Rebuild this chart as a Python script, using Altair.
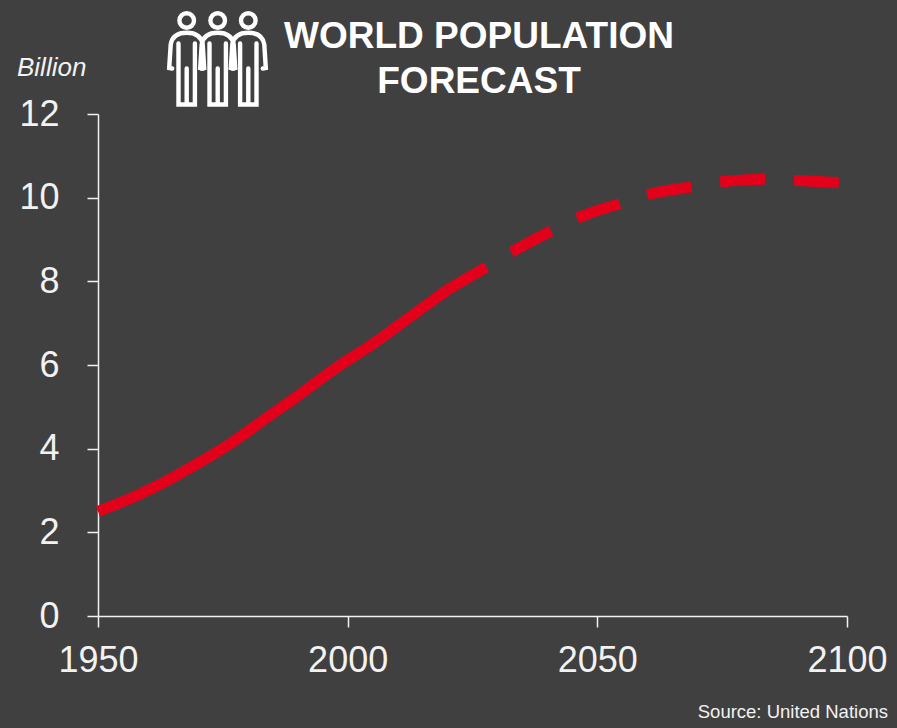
import altair as alt
import pandas as pd

# World population in billions: estimates, then the medium forecast
hist_years = [1950, 1957, 1963, 1970, 1977, 1984, 1990, 1998, 2005, 2011, 2020]
hist_pop = [2.50, 2.84, 3.18, 3.65, 4.16, 4.76, 5.26, 5.96, 6.50, 7.02, 7.80]
fcst_years = [2020, 2027, 2034, 2041, 2047, 2054, 2061, 2069, 2075, 2083, 2090, 2098, 2100]
fcst_pop = [7.80, 8.29, 8.78, 9.22, 9.56, 9.84, 10.10, 10.26, 10.38, 10.44, 10.41, 10.36, 10.34]

x_ticks = [1950, 2000, 2050, 2100]
y_ticks = [0, 2, 4, 6, 8, 10, 12]

PLOT_W, PLOT_H = 749, 502
BG = "#404040"
RED = "#e2001a"
AXIS = "#f2f2f2"
FONT = "Liberation Sans"

x_enc = alt.X(
    "year:Q", scale=alt.Scale(domain=[1950, 2100], nice=False), title=None,
    axis=alt.Axis(values=x_ticks, format="d", labelPadding=16, labelFontSize=36),
)
y_enc = alt.Y(
    "pop:Q", scale=alt.Scale(domain=[0, 12], nice=False), title=None,
    axis=alt.Axis(values=y_ticks, labelPadding=28, labelFontSize=36),
)

hist = pd.DataFrame({"year": hist_years, "pop": hist_pop})
fcst = pd.DataFrame({"year": fcst_years, "pop": fcst_pop})

solid = alt.Chart(hist).mark_line(
    color=RED, strokeWidth=11, interpolate="monotone", strokeCap="butt", clip=False
).encode(x=x_enc, y=y_enc)

dashed = alt.Chart(fcst).mark_line(
    color=RED, strokeWidth=11, interpolate="monotone", strokeCap="butt",
    strokeDash=[45, 29], clip=False,
).encode(x=x_enc, y=y_enc)


def label(text, x, y, **style):
    """A line of text placed in pixels relative to the plot area."""
    return alt.Chart(pd.DataFrame({"text": [text]})).mark_text(
        font=FONT, baseline="alphabetic", **style
    ).encode(x=alt.value(x), y=alt.value(y), text="text:N")


heading_1 = label("WORLD POPULATION", 381, -66, fontSize=37, fontWeight="bold", color="white", align="center")
heading_2 = label("FORECAST", 381, -21, fontSize=37, fontWeight="bold", color="white", align="center")
unit = label("Billion", -81, -38, fontSize=26, fontStyle="italic", color="#f2f2f2", align="left")
source = label("Source: United Nations", 790, 604, fontSize=18.5, color="#f2f2f2", align="right")

# Three-person pictogram: a custom symbol whose path units equal pixels at size 4
PERSON = (
    "M7.3,-33 A7.3,7.3 0 1 1 -7.3,-33 A7.3,7.3 0 1 1 7.3,-33 "
    "M-14.5,15 L-17.5,14.5 L-16,-9 Q-14,-20.7 0,-20.7 Q14,-20.7 16,-9 L17.5,14.5 L14.5,15 "
    "M-8.2,-10 L-8.2,51 L8.2,51 L8.2,-10 M0,15 L0,51"
)
people = [
    alt.Chart(pd.DataFrame({"figure": [i]})).mark_point(
        shape=PERSON, size=4, filled=False, stroke="white", strokeWidth=4.4, opacity=1, strokeCap="round"
    ).encode(x=alt.value(px), y=alt.value(-60.5))
    for i, px in enumerate([88.7, 119.7, 150.3])
]

chart = (
    alt.layer(solid, dashed, heading_1, heading_2, unit, source, *people)
    .properties(
        width=PLOT_W,
        height=PLOT_H,
        background=BG,
        autosize=alt.AutoSizeParams(type="none"),
        padding={"left": 98, "top": 114, "right": 50, "bottom": 112},
    )
    .configure_view(stroke=None)
    .configure_axis(
        grid=False,
        domainColor=AXIS,
        domainWidth=1.5,
        tickColor=AXIS,
        tickWidth=1.5,
        tickSize=11,
        labelColor="#f2f2f2",
        labelFont=FONT,
        labelOverlap=False,
        labelFlush=False,
        labelBound=False,
    )
)

chart.save("out.html", embed_options={"renderer": "svg", "actions": False})
